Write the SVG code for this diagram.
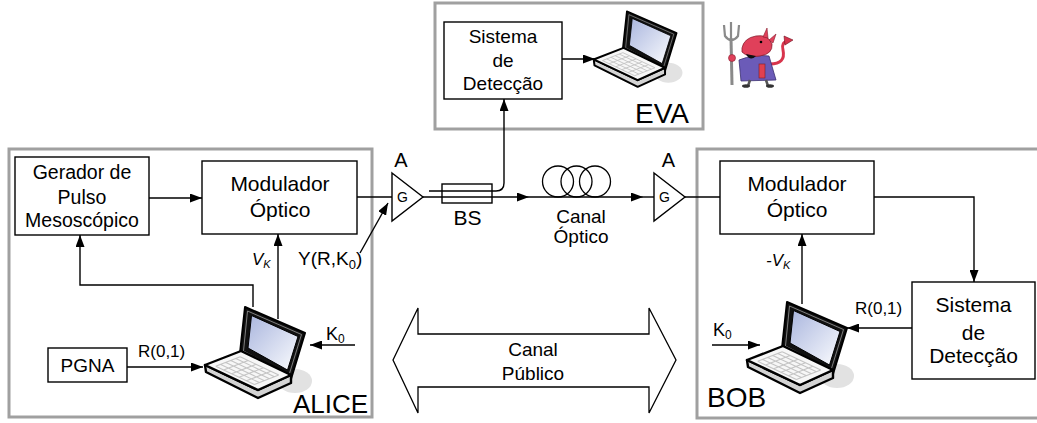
<svg xmlns="http://www.w3.org/2000/svg" width="1037" height="423" viewBox="0 0 1037 423">
  <style>
    text { font-family: "Liberation Sans", Arial, sans-serif; fill: #000; }
    .frame { fill: none; stroke: #a0a0a0; stroke-width: 3; }
    .box { fill: #fff; stroke: #000; stroke-width: 1.4; }
    .wire { fill: none; stroke: #000; stroke-width: 1.4; }
    .amp { fill: #fff; stroke: #000; stroke-width: 1.4; stroke-linejoin: miter; }
    .mid { text-anchor: middle; }
    .key { stroke: #c4c4c4; stroke-width: 1.1; fill: none; }
  </style>
  <defs>
    <marker id="ah" markerWidth="12" markerHeight="9" refX="12" refY="4.5" orient="auto" markerUnits="userSpaceOnUse">
      <path d="M0,0 L12,4.5 L0,9 Z" fill="#000"/>
    </marker>
    <linearGradient id="screen" x1="0" y1="0" x2="1" y2="1">
      <stop offset="0" stop-color="#aab6de"/>
      <stop offset="0.75" stop-color="#e6eaf6"/>
      <stop offset="1" stop-color="#ffffff"/>
    </linearGradient>
    <!-- notebook computer symbol, local box about 105 x 97 -->
    <g id="laptop">
      <ellipse cx="92" cy="78" rx="17" ry="12" fill="#e2e2e2"/>
      <polygon points="37,50 42,4 102,30 88,76" fill="#111" stroke="#000" stroke-width="2" stroke-linejoin="round"/>
      <polygon points="40.5,48 44.5,8 98.5,31.5 86,72" fill="none" stroke="#9a9a9a" stroke-width="0.8"/>
      <polygon points="45,45 48.5,12.5 95,33.5 84.5,67" fill="url(#screen)" stroke="#000" stroke-width="1"/>
      <polygon points="2,62 3,69 55,95 88,80 88,72 55,87" fill="#d4d4d4" stroke="#000" stroke-width="2.4" stroke-linejoin="round"/>
      <polygon points="2,62 55,87 88,72 38,48" fill="#f7f7f7" stroke="#000" stroke-width="2.4" stroke-linejoin="round"/>
      <path class="key" d="M12.7,63.3 L51.4,81.6 M17.7,61.4 L56.4,79.6 M22.8,59.4 L61.5,77.7 M27.8,57.4 L66.5,75.7 M32.8,55.5 L71.5,73.7 M37.2,53.8 L75.8,72 M12.7,63.3 L37.2,53.8 M20.6,67.1 L45.1,57.6 M28.6,70.8 L53.1,61.3 M36,74.3 L60.5,64.8 M43.4,77.8 L67.9,68.3 M51.4,81.6 L75.8,72"/>
    </g>
  </defs>

  <!-- party enclosures -->
  <g id="frames">
    <rect id="alice-frame" class="frame" x="9" y="149" width="363" height="268"/>
    <rect id="eva-frame" class="frame" x="435" y="3" width="268" height="126"/>
    <rect id="bob-frame" class="frame" x="697" y="149" width="360" height="269"/>
  </g>

  <!-- connectors -->
  <g id="connectors">
    <path class="wire" d="M149,198 H202" marker-end="url(#ah)"/>
    <path class="wire" d="M357,197 H392"/>
    <path class="wire" d="M253,307 V285 H80 V235" marker-end="url(#ah)"/>
    <path class="wire" d="M278,319 V234" marker-end="url(#ah)"/>
    <path class="wire" d="M360,253 L388,203" marker-end="url(#ah)"/>
    <path class="wire" d="M127,367 H203" marker-end="url(#ah)"/>
    <path class="wire" d="M355,345 H310" marker-end="url(#ah)"/>
    <path class="wire" d="M423,197 H529" marker-end="url(#ah)"/>
    <path class="wire" d="M529,197 H643" marker-end="url(#ah)"/>
    <path class="wire" d="M643,197 H654"/>
    <path class="wire" d="M429,191 H496 Q504,191 504,183 V99" marker-end="url(#ah)"/>
    <path class="wire" d="M562,59 H595" marker-end="url(#ah)"/>
    <path class="wire" d="M685,197 H720"/>
    <path class="wire" d="M874,197 H974 V282" marker-end="url(#ah)"/>
    <path class="wire" d="M802,304 V234" marker-end="url(#ah)"/>
    <path class="wire" d="M912,328 H847" marker-end="url(#ah)"/>
    <path class="wire" d="M712,345 H760" marker-end="url(#ah)"/>
  </g>

  <!-- ALICE -->
  <g id="alice-pulse-generator">
    <rect class="box" x="15" y="157" width="134" height="78"/>
    <text class="mid" x="82" y="179" font-size="19.5">Gerador de</text>
    <text class="mid" x="82" y="204" font-size="19.5">Pulso</text>
    <text class="mid" x="82" y="227" font-size="19.5">Mesoscópico</text>
  </g>
  <g id="alice-modulator">
    <rect class="box" x="202" y="161" width="155" height="73"/>
    <text class="mid" x="280" y="191" font-size="21">Modulador</text>
    <text class="mid" x="280" y="217" font-size="21">Óptico</text>
  </g>
  <g id="alice-pgna">
    <rect class="box" x="48" y="348" width="79" height="34"/>
    <text class="mid" x="87.5" y="372" font-size="19">PGNA</text>
  </g>
  <use id="alice-laptop" href="#laptop" transform="translate(203,303)"/>
  <g id="alice-labels">
    <text x="252" y="265" font-size="17" font-style="italic">V<tspan font-size="11" dy="3">K</tspan></text>
    <text x="298" y="265" font-size="19">Y(R,K<tspan font-size="13" dy="4">0</tspan><tspan dy="-4">)</tspan></text>
    <text x="138" y="357" font-size="17">R(0,1)</text>
    <text x="326" y="340" font-size="18">K<tspan font-size="12" dy="3">0</tspan></text>
    <text x="293" y="413" font-size="26">ALICE</text>
  </g>

  <!-- optical link -->
  <g id="amp-alice">
    <polygon class="amp" points="392,173 423,197 392,221"/>
    <text class="mid" x="401" y="167" font-size="20">A</text>
    <text class="mid" x="402.5" y="202" font-size="14">G</text>
  </g>
  <g id="beam-splitter">
    <rect x="442" y="184" width="50" height="19" fill="none" stroke="#000" stroke-width="1.4"/>
    <text class="mid" x="467.5" y="225" font-size="21">BS</text>
  </g>
  <g id="fiber-channel">
    <circle cx="558" cy="181.5" r="15.5" fill="none" stroke="#000" stroke-width="1.3"/>
    <circle cx="576.5" cy="181.5" r="15.5" fill="none" stroke="#000" stroke-width="1.3"/>
    <circle cx="595" cy="181.5" r="15.5" fill="none" stroke="#000" stroke-width="1.3"/>
    <text class="mid" x="581" y="223" font-size="19">Canal</text>
    <text class="mid" x="581" y="243" font-size="19">Óptico</text>
  </g>
  <g id="amp-bob">
    <polygon class="amp" points="654,173 685,197 654,221"/>
    <text class="mid" x="668.5" y="167" font-size="20">A</text>
    <text class="mid" x="664.5" y="202" font-size="14">G</text>
  </g>

  <!-- public channel -->
  <g id="public-channel">
    <polygon points="393,360 418,308 418,334 649,334 649,308 676,360 649,413 649,387 418,387 418,413" fill="#fff" stroke="#000" stroke-width="1.3" stroke-linejoin="miter"/>
    <text class="mid" x="533" y="356" font-size="19">Canal</text>
    <text class="mid" x="533" y="380" font-size="19">Público</text>
  </g>

  <!-- EVA -->
  <g id="eva-detector">
    <rect class="box" x="444" y="22" width="118" height="77"/>
    <text class="mid" x="503" y="43" font-size="19">Sistema</text>
    <text class="mid" x="503" y="67" font-size="19">de</text>
    <text class="mid" x="503" y="90" font-size="19">Detecção</text>
  </g>
  <use id="eva-laptop" href="#laptop" transform="translate(592,8) scale(0.83)"/>
  <text id="eva-label" x="635" y="123" font-size="28">EVA</text>
  <g id="eva-devil">
    <!-- tail -->
    <path d="M770,64 Q786,64 783,50 Q781,42 788,41" fill="none" stroke="#d8344c" stroke-width="3" stroke-linecap="round"/>
    <polygon points="784,36 793,40 785,45" fill="#d8344c" stroke="#6a1020" stroke-width="0.6"/>
    <!-- robe -->
    <path d="M739,60 Q754,54 769,56 L776,80 L741,81 Z" fill="#6b5bb8" stroke="#3a2f70" stroke-width="0.8"/>
    <rect x="759" y="64" width="6" height="14" fill="#e04050" stroke="#7a1f2a" stroke-width="0.6"/>
    <!-- legs and feet -->
    <path d="M750,80 L748,86 M766,80 L768,86" stroke="#555" stroke-width="2.5"/>
    <ellipse cx="746" cy="86" rx="4" ry="1.8" fill="#333"/>
    <ellipse cx="770" cy="86" rx="4" ry="1.8" fill="#333"/>
    <!-- trident -->
    <path d="M731,38 L732,85" stroke="#8a8a8a" stroke-width="3"/>
    <path d="M724,25 L725,36 Q728,40 731,40 Q735,40 738,36 L739,25 M731,22 L731,40" fill="none" stroke="#8a8a8a" stroke-width="2.2"/>
    <!-- head -->
    <path d="M742,48 Q744,38 756,36 Q768,34 772,44 Q773,54 760,56 Q748,58 742,52 Z" fill="#e0405a" stroke="#8a1f30" stroke-width="0.8"/>
    <polygon points="763,37 767,28 768,38" fill="#e0405a" stroke="#8a1f30" stroke-width="0.6"/>
    <polygon points="769,40 776,34 773,43" fill="#e0405a" stroke="#8a1f30" stroke-width="0.6"/>
    <circle cx="761" cy="42" r="1.3" fill="#000"/>
    <path d="M746,54 Q750,62 756,56" fill="#111"/>
    <!-- hand on trident -->
    <circle cx="732" cy="58" r="3.5" fill="#e0405a" stroke="#8a1f30" stroke-width="0.6"/>
  </g>

  <!-- BOB -->
  <g id="bob-modulator">
    <rect class="box" x="720" y="161" width="154" height="73"/>
    <text class="mid" x="797" y="191" font-size="21">Modulador</text>
    <text class="mid" x="797" y="217" font-size="21">Óptico</text>
  </g>
  <g id="bob-detector">
    <rect class="box" x="912" y="282" width="123" height="97"/>
    <text class="mid" x="973.5" y="312" font-size="21">Sistema</text>
    <text class="mid" x="973.5" y="340" font-size="21">de</text>
    <text class="mid" x="973.5" y="363" font-size="21">Detecção</text>
  </g>
  <use id="bob-laptop" href="#laptop" transform="translate(745,298)"/>
  <g id="bob-labels">
    <text x="766" y="266" font-size="17" font-style="italic">-V<tspan font-size="11" dy="3">K</tspan></text>
    <text x="855" y="314" font-size="17">R(0,1)</text>
    <text x="713" y="336" font-size="18">K<tspan font-size="12" dy="3">0</tspan></text>
    <text x="707" y="407" font-size="28">BOB</text>
  </g>
</svg>
